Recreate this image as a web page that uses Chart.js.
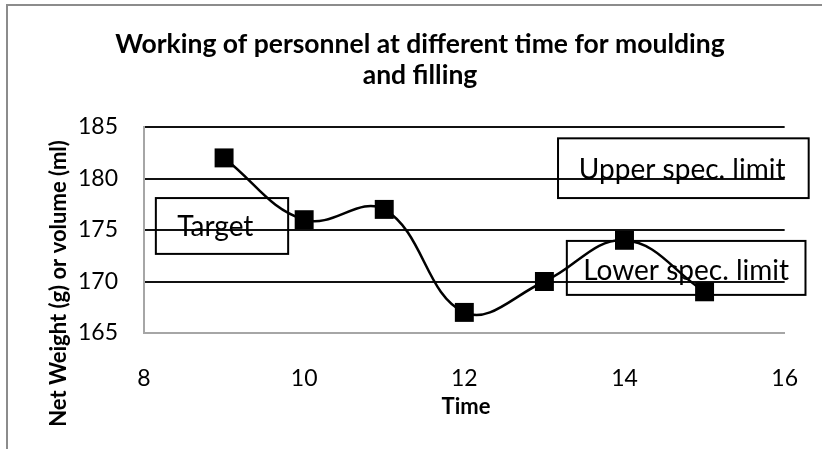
<!DOCTYPE html>
<html>
<head>
<meta charset="utf-8">
<title>Working of personnel</title>
<script src="https://cdn.jsdelivr.net/npm/chart.js@4/dist/chart.umd.min.js"></script>
<style>
  html, body { margin: 0; padding: 0; background: #fff; }
  #grafico { display: block; }
</style>
</head>
<body>
<canvas id="grafico" width="822" height="449"></canvas>
<script>
// tiempos y pesos medidos
const tiempos = [9, 10, 11, 12, 13, 14, 15];
const pesos = [182, 176, 177, 167, 170, 174, 169];

// ejes
const ticksX = [8, 10, 12, 14, 16];
const ticksY = [165, 170, 175, 180, 185];

// cajas de texto en unidades de los ejes: [x0, x1, y0, y1]
const cajaTarget = [8.148, 9.80, 172.68, 178.1];
const cajaUpper = [13.17, 16.30, 178.1, 183.9];
const cajaLower = [13.28, 16.26, 168.7, 173.94];
// texto de cada caja y su ancla (centro x, linea base y)
const textos = ['Target', 'Upper spec. limit', 'Lower spec. limit'];
const anclas = [[8.89, 174.4], [14.72, 180.0], [14.77, 170.1]];

const titulo = ['Working of personnel at different time for moulding', 'and filling'];
const tituloX = 'Time';
const tituloY = 'Net Weight (g) or volume (ml)';

const FUENTE = 'Lato, "Open Sans", sans-serif';

const decorado = {
    id: 'decorado',
    beforeDraw(chart) {
        const c = chart.ctx;
        c.save();
        // marco exterior gris
        c.strokeStyle = '#8c8c8c';
        c.lineWidth = 2;
        c.strokeRect(7, 5, 1000, 1000);

        c.fillStyle = '#000';
        c.textAlign = 'center';
        c.textBaseline = 'alphabetic';
        c.font = 'bold 26.5px ' + FUENTE;
        c.fillText(titulo[0], 420, 52.5);
        c.fillText(titulo[1], 420, 83.5);

        c.font = 'bold 22px ' + FUENTE;
        c.fillText(tituloX, 466, 413.5);

        c.translate(58.5, 283.5);
        c.rotate(-Math.PI / 2);
        c.textBaseline = 'middle';
        c.fillText(tituloY, 0, 0);
        c.restore();
    },
    afterDatasetsDraw(chart) {
        const c = chart.ctx;
        const sx = chart.scales.x, sy = chart.scales.y;
        c.save();
        c.strokeStyle = '#000';
        c.lineWidth = 2;
        [cajaTarget, cajaUpper, cajaLower].forEach(b => {
            const x0 = sx.getPixelForValue(b[0]), x1 = sx.getPixelForValue(b[1]);
            const y0 = sy.getPixelForValue(b[3]), y1 = sy.getPixelForValue(b[2]);
            c.strokeRect(x0, y0, x1 - x0, y1 - y0);
        });
        c.fillStyle = '#000';
        c.font = '28px ' + FUENTE;
        c.textAlign = 'center';
        c.textBaseline = 'alphabetic';
        textos.forEach((t, i) => {
            c.fillText(t, sx.getPixelForValue(anclas[i][0]), sy.getPixelForValue(anclas[i][1]));
        });
        c.restore();
    }
};

const data = {
    datasets: [{
        label: 'Net weight',
        data: tiempos.map((t, i) => ({ x: t, y: pesos[i] })),
        borderColor: '#000',
        backgroundColor: '#000',
        borderWidth: 2.5,
        tension: 0.4,
        pointStyle: 'rect',
        pointRadius: 13.4,
        pointHoverRadius: 13.4,
        pointBorderWidth: 0,
        clip: false
    }]
};

const chart = new Chart(document.getElementById('grafico').getContext('2d'), {
    type: 'line',
    data: data,
    options: {
        responsive: false,
        animation: false,
        events: [],
        layout: { padding: { left: 0, top: 127, right: 30, bottom: 0 } },
        plugins: { legend: { display: false }, tooltip: { enabled: false }, title: { display: false } },
        scales: {
            x: {
                type: 'linear',
                min: ticksX[0],
                max: ticksX[ticksX.length - 1],
                afterBuildTicks: s => { s.ticks = ticksX.map(v => ({ value: v })); },
                afterFit: s => { s.height = 116; },
                grid: { display: false },
                border: { display: true, color: '#a6a6a6', width: 2 },
                ticks: { color: '#000', padding: 24, maxRotation: 0, font: { family: FUENTE, size: 23 } }
            },
            y: {
                min: ticksY[0],
                max: ticksY[ticksY.length - 1],
                afterBuildTicks: s => { s.ticks = ticksY.map(v => ({ value: v })); },
                afterFit: s => { s.width = 144; },
                grid: {
                    drawTicks: false,
                    lineWidth: 2,
                    color: ctx => ctx.tick && ctx.tick.value === ticksY[0] ? '#a6a6a6' : '#111'
                },
                border: { display: true, color: '#a6a6a6', width: 2 },
                ticks: { color: '#000', padding: 26, font: { family: FUENTE, size: 23 } }
            }
        }
    },
    plugins: [decorado]
});
</script>
</body>
</html>
